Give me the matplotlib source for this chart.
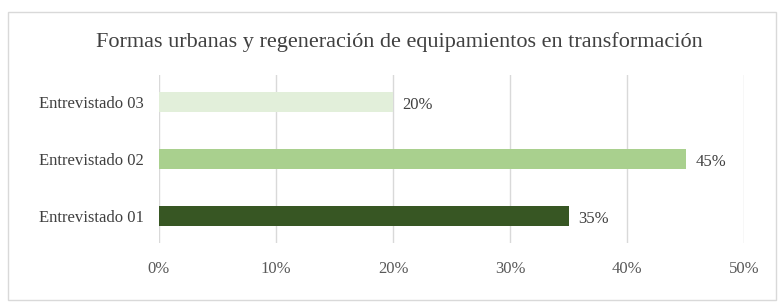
import matplotlib
matplotlib.use("Agg")
import matplotlib.pyplot as plt
from matplotlib.patches import Rectangle
from matplotlib.ticker import FuncFormatter

categories = ["Entrevistado 01", "Entrevistado 02", "Entrevistado 03"]
values = [0.35, 0.45, 0.20]
colors = ["#375623", "#A9D08E", "#E2EFDA"]
xticks = [0, 0.1, 0.2, 0.3, 0.4, 0.5]
title = "Formas urbanas y regeneración de equipamientos en transformación"

plt.rcParams['font.family'] = ['Liberation Serif', 'DejaVu Serif']

W, H = 779, 306
fig = plt.figure(figsize=(W/100, H/100), dpi=100)
fig.patch.set_facecolor("white")
fig.patches.append(Rectangle((8/W, 1-300/H), (776-8)/W, (300-12)/H,
                             transform=fig.transFigure, fill=False,
                             edgecolor="#D9D9D9", linewidth=1.0))

ax = fig.add_axes([159/W, 1-243/H, (744-159)/W, (243-75)/H])
y = list(range(len(categories)))
ax.barh(y, values, height=0.36, color=colors, zorder=3)
ax.set_xlim(0, 0.5)
ax.set_ylim(-0.48, 2.48)
ax.set_yticks(y)
ax.set_yticklabels(categories, fontsize=12, color="#404040")
ax.set_xticks(xticks)
ax.xaxis.set_major_formatter(FuncFormatter(lambda v, p: f"{v*100:.0f}%"))
ax.tick_params(axis='x', labelsize=12, labelcolor="#595959", length=0, pad=13)
ax.tick_params(axis='y', length=0, pad=11)
ax.grid(axis='x', color="#D9D9D9", linewidth=1.0, zorder=0)
for s in ax.spines.values():
    s.set_visible(False)

for yi, v in zip(y, values):
    ax.annotate(f"{v*100:.0f}%", (v, yi), xytext=(7, -2), textcoords="offset points",
                va="center", ha="left", fontsize=12, color="#404040")

fig.text((95+703)/2/W, 1-42/H, title, ha="center", va="center",
         fontsize=16, color="#404040")

fig.savefig("out.png", dpi=100)
